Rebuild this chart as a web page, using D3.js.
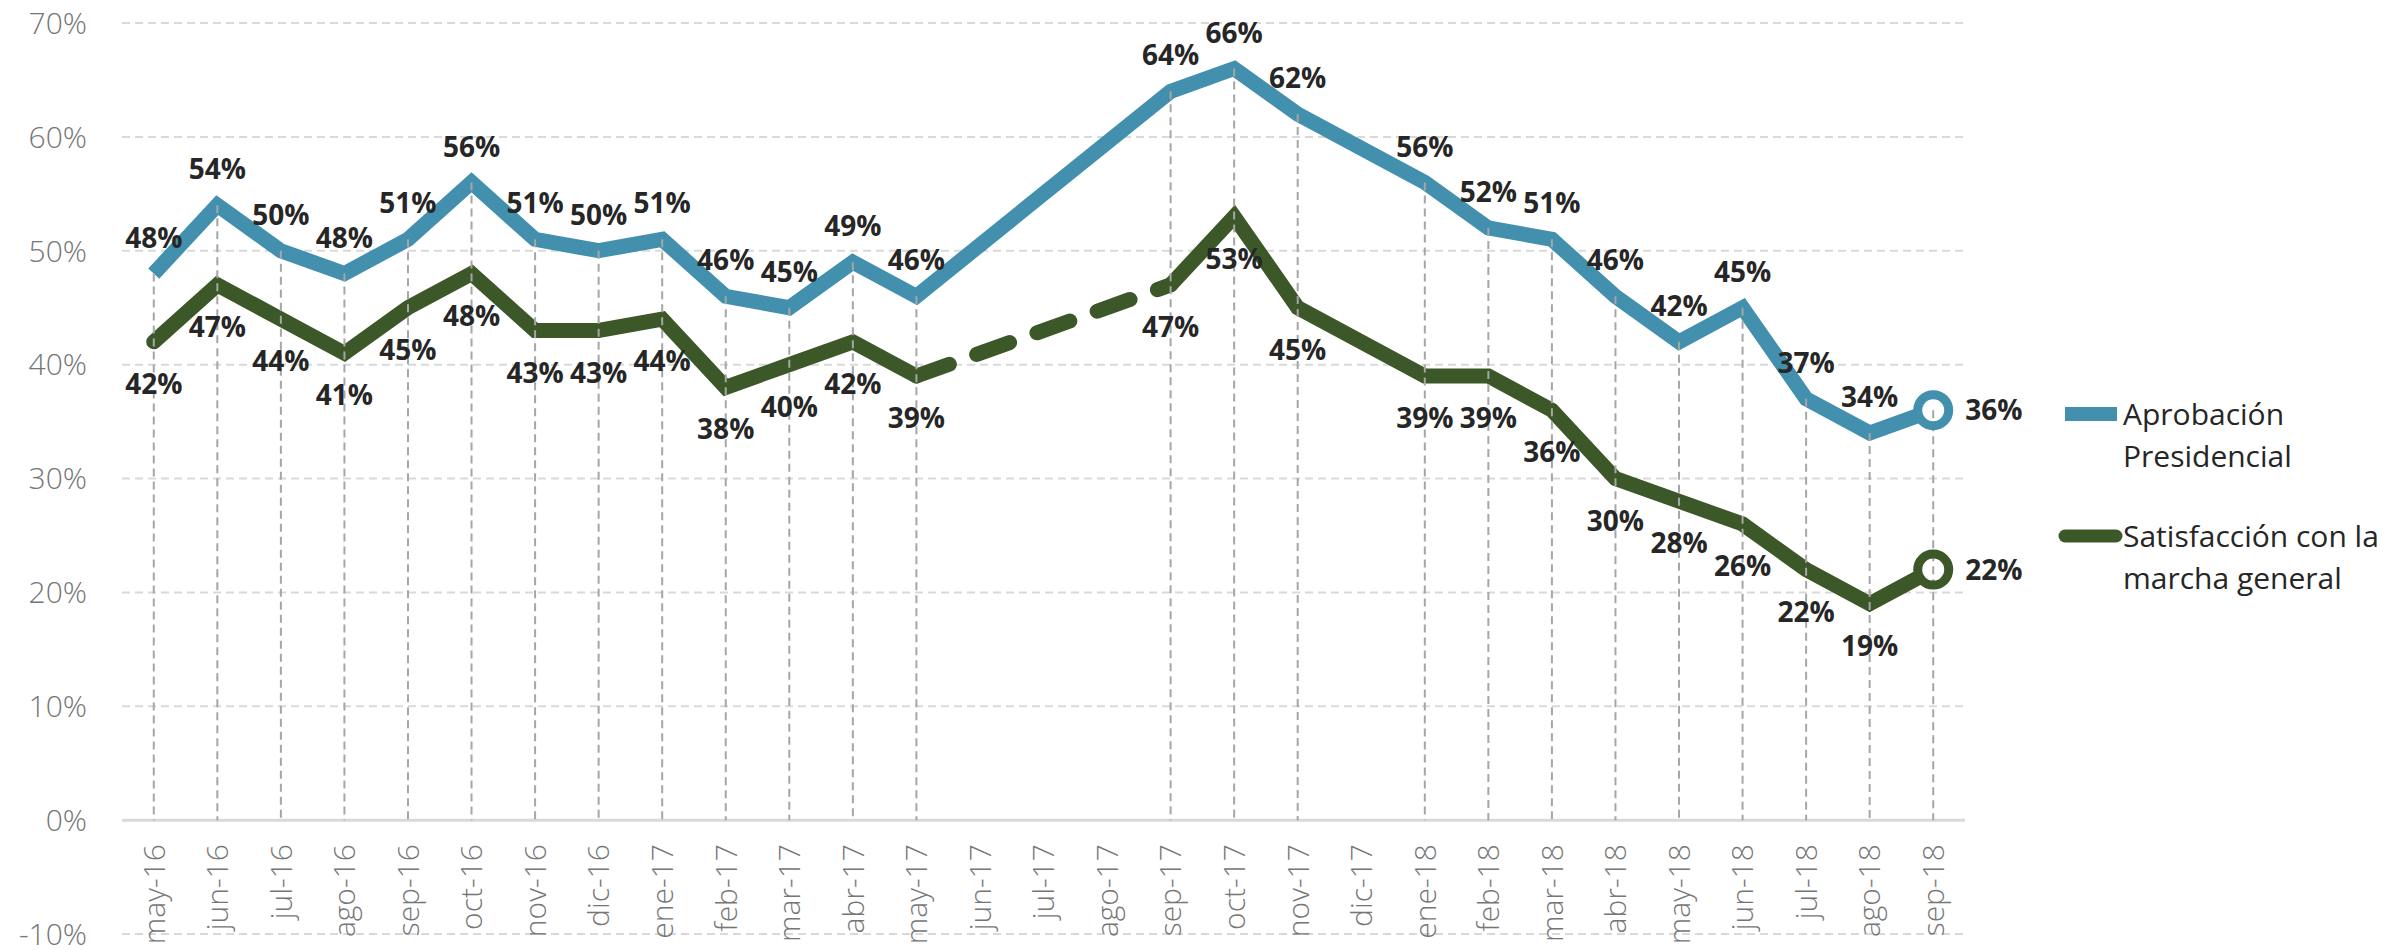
<!DOCTYPE html>
<html>
<head>
<meta charset="utf-8">
<script src="https://cdn.jsdelivr.net/npm/d3@7"></script>
<style>
  body { margin: 0; background: #fff; }
  text { font-family: "Open Sans", "Noto Sans", sans-serif; }
</style>
</head>
<body>
<script>
// categories (months)
var months = ["may-16","jun-16","jul-16","ago-16","sep-16","oct-16","nov-16","dic-16",
  "ene-17","feb-17","mar-17","abr-17","may-17","jun-17","jul-17","ago-17","sep-17","oct-17","nov-17","dic-17",
  "ene-18","feb-18","mar-18","abr-18","may-18","jun-18","jul-18","ago-18","sep-18"];

// series values (%), null = no survey that month
var aprobacion = [48,54,50,48,51,56,51,50,51,46,45,49,46,null,null,null,64,66,62,null,56,52,51,46,42,45,37,34,36];
var satisfaccion = [42,47,44,41,45,48,43,43,44,38,40,42,39,null,null,null,47,53,45,null,39,39,36,30,28,26,22,19,22];

// y ticks
var yTicks = [-10,0,10,20,30,40,50,60,70];

var legendLines = [["Aprobación","Presidencial"],["Satisfacción con la","marcha general"]];
// the gap after these months is drawn dashed
var dashedGapAfter = [[], ["may-17"]];

var W = 2407, H = 950;
var plot = {left: 122, right: 1965, top: 23, bottom: 934};
var colors = ["#4290AE", "#3C5828"];

var svg = d3.select("body").append("svg")
    .attr("width", W)
    .attr("height", H);

// set the ranges
var x = d3.scalePoint().domain(months).range([plot.left, plot.right]).padding(0.5);
var y = d3.scaleLinear().domain([-10, 70]).range([plot.bottom, plot.top]);

// horizontal grid lines
svg.append("g")
  .selectAll("line")
  .data(yTicks)
  .enter().append("line")
    .attr("x1", plot.left)
    .attr("x2", plot.right)
    .attr("y1", function(d) { return y(d); })
    .attr("y2", function(d) { return y(d); })
    .attr("stroke", "#D9D9D9")
    .attr("stroke-width", function(d) { return d === 0 ? 3 : 2; })
    .attr("stroke-dasharray", function(d) { return d === 0 ? null : "8,5"; });

// y axis labels
svg.append("g")
  .selectAll("text")
  .data(yTicks)
  .enter().append("text")
    .attr("x", 87)
    .attr("y", function(d) { return y(d); })
    .attr("dy", "0.36em")
    .attr("text-anchor", "end")
    .style("font-size", "30px")
    .style("font-weight", 300)
    .attr("fill", "#767676")
    .text(function(d) { return d + "%"; });

// x axis labels (rotated)
svg.append("g")
  .selectAll("text")
  .data(months)
  .enter().append("text")
    .attr("transform", function(d) { return "translate(" + x(d) + "," + (y(0) + 24) + ") rotate(-90)"; })
    .attr("dy", "0.36em")
    .attr("text-anchor", "end")
    .style("font-size", "30px")
    .style("font-weight", 300)
    .attr("fill", "#767676")
    .text(function(d) { return d; });

// split a series into solid / dashed pieces
function pieces(vals, dashedAfter) {
  var pts = months.map(function(m, i) { return {m: m, v: vals[i]}; })
    .filter(function(d) { return d.v != null; });
  var out = [], cur = [pts[0]];
  for (var i = 1; i < pts.length; i++) {
    if (dashedAfter.indexOf(pts[i-1].m) >= 0) {
      out.push({pts: cur, dashed: false});
      out.push({pts: [pts[i-1], pts[i]], dashed: true});
      cur = [pts[i]];
    } else {
      cur.push(pts[i]);
    }
  }
  out.push({pts: cur, dashed: false});
  return out;
}

var valueline = d3.line()
    .x(function(d) { return x(d.m); })
    .y(function(d) { return y(d.v); });

var allSeries = [aprobacion, satisfaccion];
var caps = ["butt", "round"];

allSeries.forEach(function(vals, s) {
  pieces(vals, dashedGapAfter[s]).forEach(function(p) {
    svg.append("path")
      .datum(p.pts)
      .attr("fill", "none")
      .attr("stroke", colors[s])
      .attr("stroke-width", 15)
      .attr("stroke-linejoin", "miter")
      .attr("stroke-linecap", p.dashed ? "round" : caps[s])
      .attr("stroke-dasharray", p.dashed ? "35,29" : null)
      .attr("d", valueline);
  });
});

// end markers: white fill first
var last = months.length - 1;
allSeries.forEach(function(vals, s) {
  svg.append("circle")
    .attr("cx", x(months[last]))
    .attr("cy", y(vals[last]))
    .attr("r", 15.5)
    .attr("fill", "#fff");
});

// drop lines from the highest point down to 0%
svg.append("g")
  .selectAll("line")
  .data(months.filter(function(m, i) { return aprobacion[i] != null || satisfaccion[i] != null; }))
  .enter().append("line")
    .attr("x1", function(d) { return x(d); })
    .attr("x2", function(d) { return x(d); })
    .attr("y1", function(d) {
      var i = months.indexOf(d);
      return y(Math.max(aprobacion[i] || 0, satisfaccion[i] || 0));
    })
    .attr("y2", y(0))
    .attr("stroke", "#A6A6A6")
    .attr("stroke-width", 2)
    .attr("stroke-dasharray", "8,5");

// end markers: ring
allSeries.forEach(function(vals, s) {
  svg.append("circle")
    .attr("cx", x(months[last]))
    .attr("cy", y(vals[last]))
    .attr("r", 15.5)
    .attr("fill", "none")
    .attr("stroke", colors[s])
    .attr("stroke-width", 9);
});

// data labels
var labelOffset = [-36, 42];
allSeries.forEach(function(vals, s) {
  months.forEach(function(m, i) {
    if (vals[i] == null) return;
    var isLast = i === last;
    svg.append("text")
      .attr("x", isLast ? x(m) + 32 : x(m))
      .attr("y", isLast ? y(vals[i]) : y(vals[i]) + labelOffset[s])
      .attr("dy", "0.36em")
      .attr("text-anchor", isLast ? "start" : "middle")
      .style("font-size", "28px")
      .style("font-weight", 700)
      .attr("fill", "#262626")
      .text(vals[i] + "%");
  });
});

// legend
var legend = svg.append("g");
legend.append("rect")
  .attr("x", 2065).attr("y", 407)
  .attr("width", 52).attr("height", 14)
  .attr("fill", colors[0]);
legend.append("line")
  .attr("x1", 2065).attr("x2", 2116)
  .attr("y1", 536).attr("y2", 536)
  .attr("stroke", colors[1])
  .attr("stroke-width", 13)
  .attr("stroke-linecap", "round");

var legendY = [425, 547];
legendLines.forEach(function(lines, s) {
  var t = legend.append("text")
    .attr("x", 2123)
    .attr("y", legendY[s])
    .style("font-size", "30px")
    .attr("fill", "#262626");
  lines.forEach(function(l, k) {
    t.append("tspan")
      .attr("x", 2123)
      .attr("dy", k === 0 ? 0 : 41.5)
      .text(l);
  });
});
</script>
</body>
</html>
